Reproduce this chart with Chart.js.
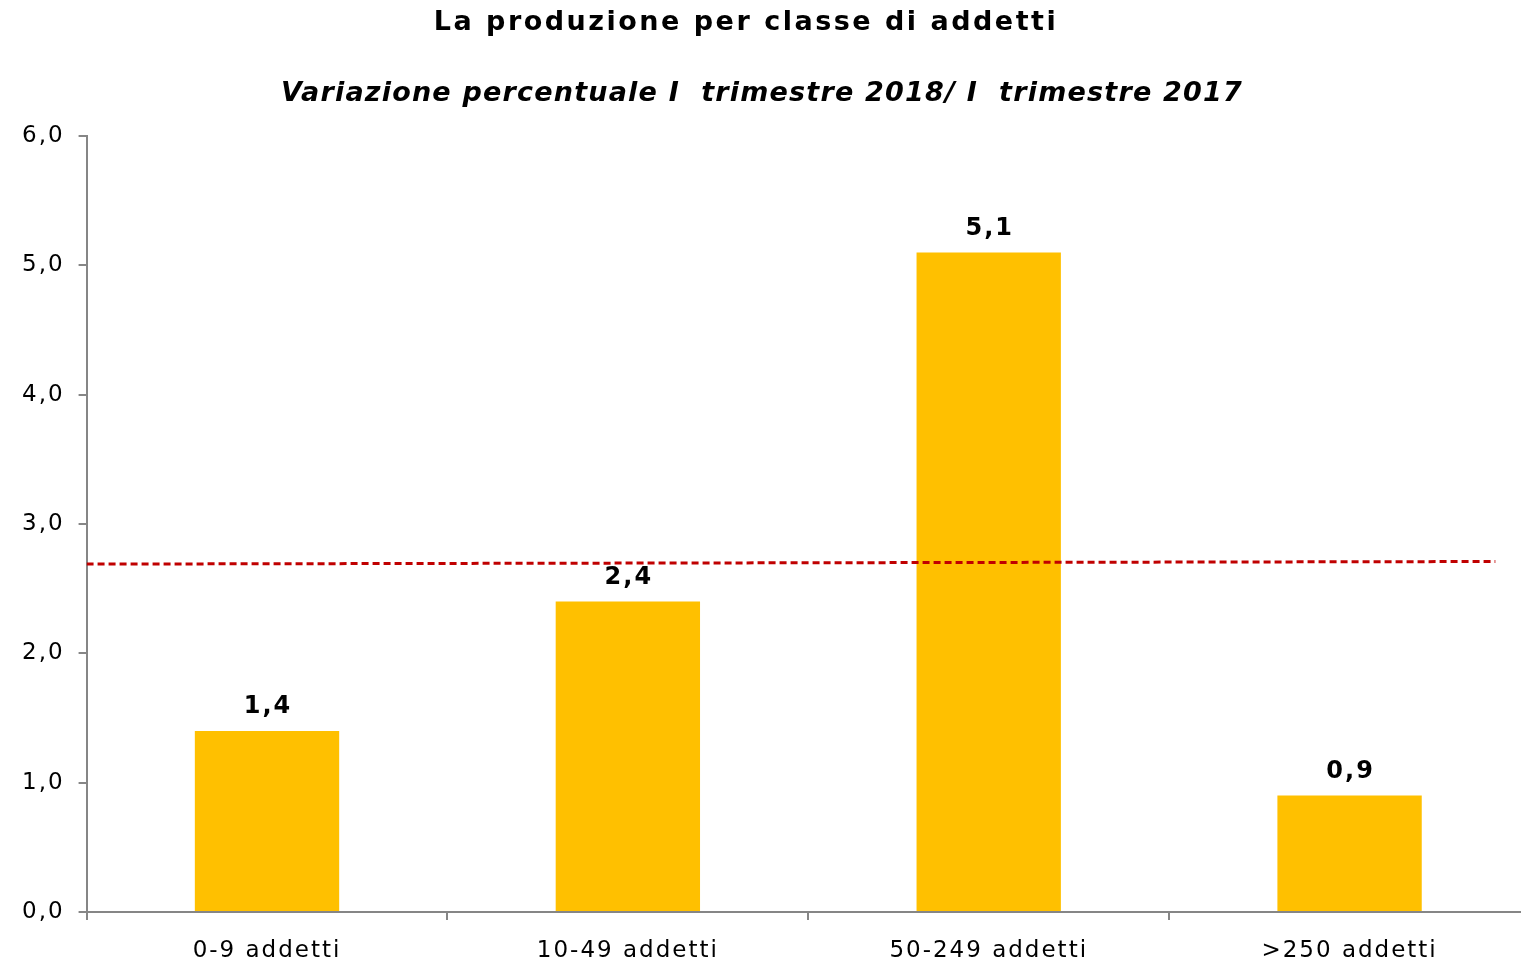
<!DOCTYPE html>
<html>
<head>
<meta charset="utf-8">
<script src="https://cdn.jsdelivr.net/npm/chart.js@4.4.0/dist/chart.umd.min.js"></script>
<style>
    body { margin: 0; overflow: hidden; background: #fff; }
    #wrap { position: relative; width: 1530px; height: 962px; }
</style>
</head>
<body>
<div id="wrap"><canvas id="prodChart"></canvas></div>
<script>
const titleText = 'La produzione per classe di addetti';
const subtitleText = 'Variazione percentuale I  trimestre 2018/ I  trimestre 2017';
const categories = ['0-9 addetti', '10-49 addetti', '50-249 addetti', '>250 addetti'];
const variazione = [1.4, 2.4, 5.1, 0.9];
// media totale (linea tratteggiata), leggermente inclinata come nell'originale
const mediaX = [0, 0.976];
const mediaY = [2.69, 2.71];
const yTicks = [0, 1, 2, 3, 4, 5, 6];

const fmt = v => Number(v).toFixed(1).replace('.', ',');

// spaziatura larga come nel grafico Excel originale
const spacing = {
    id: 'spacing',
    beforeLayout(chart) { chart.ctx.letterSpacing = '2px'; },
    beforeDraw(chart) { chart.ctx.letterSpacing = '2px'; }
};

// titoli disegnati a mano (posizione come nell'originale)
const titles = {
    id: 'titles',
    afterDraw(chart) {
        const ctx = chart.ctx;
        ctx.save();
        ctx.fillStyle = '#000';
        ctx.textAlign = 'center';
        ctx.textBaseline = 'middle';
        ctx.letterSpacing = '2.5px';
        ctx.font = 'bold 27px "DejaVu Sans"';
        ctx.fillText(titleText, 746, 23);
        ctx.letterSpacing = '1.2px';
        ctx.font = 'italic bold 27px "DejaVu Sans"';
        ctx.fillText(subtitleText, 762, 94);
        ctx.restore();
    }
};

// etichette sopra le barre
const barLabels = {
    id: 'barLabels',
    afterDatasetsDraw(chart) {
        const ctx = chart.ctx;
        const meta = chart.getDatasetMeta(0);
        ctx.save();
        ctx.letterSpacing = '2px';
        ctx.font = 'bold 24px "DejaVu Sans"';
        ctx.fillStyle = '#000';
        ctx.textAlign = 'center';
        ctx.textBaseline = 'middle';
        meta.data.forEach((bar, i) => {
            ctx.fillText(fmt(variazione[i]), bar.x + 1, bar.y - 24);
        });
        ctx.restore();
    }
};

const ctx = document.getElementById('prodChart');
new Chart(ctx, {
    data: {
        labels: categories,
        datasets: [{
            type: 'bar',
            data: variazione,
            backgroundColor: '#FFC000',
            categoryPercentage: 1.0,
            barPercentage: 0.4,
            grouped: false,
            order: 2
        }, {
            type: 'line',
            xAxisID: 'x2',
            data: mediaX.map((x, i) => ({ x: x, y: mediaY[i] })),
            borderColor: '#C00000',
            borderWidth: 3,
            borderDash: [7, 4],
            pointRadius: 0,
            order: 1
        }]
    },
    options: {
        animation: false,
        responsive: true,
        maintainAspectRatio: false,
        layout: { padding: { left: 8, right: 0, top: 136, bottom: 0 } },
        plugins: {
            legend: { display: false },
            tooltip: { enabled: false }
        },
        scales: {
            x: {
                type: 'category',
                afterFit: s => { s.height = 50; },
                grid: {
                    offset: true,
                    drawOnChartArea: false,
                    drawTicks: true,
                    tickLength: 8,
                    color: '#868686',
                    lineWidth: 2
                },
                border: { color: '#868686', width: 2 },
                ticks: {
                    color: '#000',
                    font: { family: 'DejaVu Sans', size: 23 },
                    padding: 17
                }
            },
            x2: {
                type: 'linear',
                min: 0,
                max: 1,
                display: false
            },
            y: {
                min: 0,
                max: 6,
                afterBuildTicks: axis => { axis.ticks = yTicks.map(v => ({ value: v })); },
                grid: {
                    drawOnChartArea: false,
                    drawTicks: true,
                    tickLength: 8,
                    color: '#868686',
                    lineWidth: 2
                },
                border: { color: '#868686', width: 2 },
                ticks: {
                    color: '#000',
                    font: { family: 'DejaVu Sans', size: 23 },
                    padding: 14,
                    callback: v => fmt(v)
                }
            }
        }
    },
    plugins: [spacing, titles, barLabels]
});
</script>
</body>
</html>
